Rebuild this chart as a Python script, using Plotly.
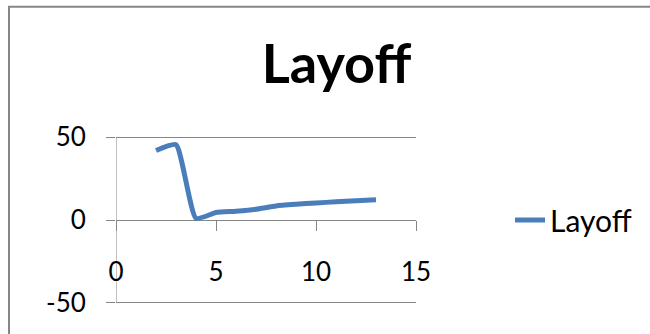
import plotly.graph_objects as go

x_vals = [2, 3, 4, 5, 6, 7, 8, 9, 10, 11, 12, 13]
layoff = [42, 45.5, 1, 4.5, 5.3, 6.5, 8.5, 9.5, 10.3, 11, 11.6, 12.2]
series_name = "Layoff"
x_ticks = [0, 5, 10, 15]
y_ticks = [-50, 0, 50]
y_tick_text = ["-50", "0", "50"]

FONT = "Lato"
GRAY = "#868686"

fig = go.Figure()
fig.add_trace(go.Scatter(
    x=x_vals, y=layoff, name=series_name, mode="lines",
    line=dict(color="#4A7EBB", width=5, shape="spline", smoothing=0.5),
))

W, H = 650, 334
PPU = 166 / 100.0          # pixels per y unit
YPAD = 2.0                 # y-range padding so edge gridlines are drawn
L, R = 116, 416
T = 137 - YPAD * PPU
B = 303 + YPAD * PPU

def px_x(p):
    return (p - L) / (R - L)

def px_y(p):
    return (B - p) / (B - T)

fig.update_layout(
    width=W, height=H,
    margin=dict(l=L, r=W - R, t=T, b=H - B, pad=0),
    paper_bgcolor="white", plot_bgcolor="white",
    font=dict(family=FONT, color="#000000"),
    title=dict(text="<b>Layoff</b>", x=336.5 / W, xanchor="center",
               y=1 - 64 / H, yanchor="middle", yref="container",
               font=dict(family=FONT, size=54, color="#000000")),
    xaxis=dict(range=[0, 15], tickvals=x_ticks, ticks="outside", ticklen=10,
               tickcolor=GRAY, showline=False,
               showgrid=False, zeroline=False, anchor="free", position=0.5,
               tickfont=dict(family=FONT, size=26, color="#000000"),
               ticklabelstandoff=19, fixedrange=True),
    yaxis=dict(range=[-50 - YPAD, 50 + YPAD], tickvals=y_ticks, ticktext=y_tick_text,
               ticks="outside", ticklen=9,
               tickcolor=GRAY, showline=False,
               showgrid=True, gridcolor=GRAY, gridwidth=1,
               zeroline=True, zerolinecolor=GRAY, zerolinewidth=1,
               tickfont=dict(family=FONT, size=26, color="#000000"),
               ticklabelstandoff=15, fixedrange=True),
    showlegend=True,
    legend=dict(x=px_x(510), y=px_y(220), xanchor="left", yanchor="middle",
                font=dict(family=FONT, size=30, color="#000000"),
                bgcolor="rgba(0,0,0,0)", borderwidth=0),
    shapes=[
        dict(type="path", xref="paper", yref="paper",
             path=f"M{px_x(9)},{px_y(340)} L{px_x(9)},{px_y(6)} L{px_x(660)},{px_y(6)}",
             line=dict(color=GRAY, width=2)),
        # vertical axis line at x = 0, spanning the tick range
        dict(type="line", xref="x", yref="y", x0=x_ticks[0], x1=x_ticks[0],
             y0=y_ticks[0], y1=y_ticks[-1],
             line=dict(color=GRAY, width=1), layer="below"),
    ],
)

fig.write_html("out.html")
